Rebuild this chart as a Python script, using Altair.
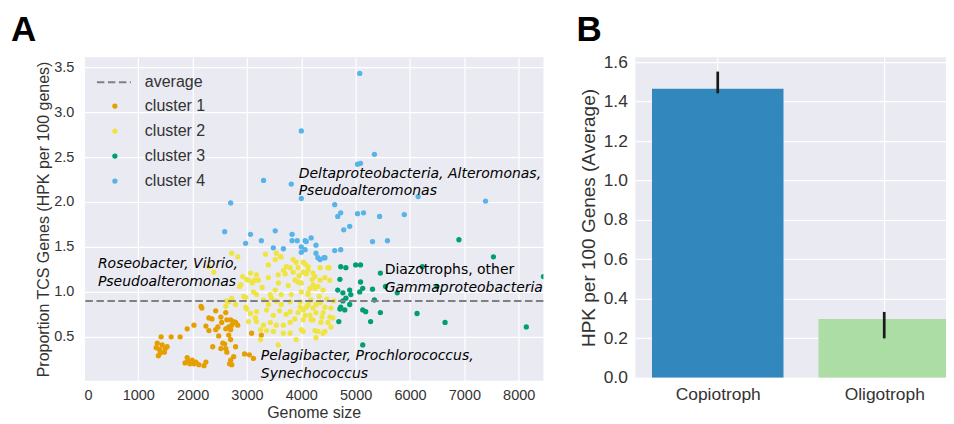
import altair as alt
import pandas as pd

# ---------------- Panel A data (genome size, HPK per 100 genes) ----------------
cluster1 = [
    (1330, 0.38), (1350, 0.43), (1390, 0.36), (1370, 0.29), (1405, 0.32), (1420, 0.50),
    (1440, 0.41), (1480, 0.33), (1530, 0.39), (1605, 0.50), (1495, 0.37), (1770, 0.50),
    (1860, 0.21), (1900, 0.27), (1915, 0.23), (1990, 0.24), (2025, 0.20), (2115, 0.19),
    (2210, 0.18), (2245, 0.22), (1950, 0.20), (1900, 0.59), (2025, 0.63), (2155, 0.84),
    (2170, 0.82), (2245, 0.62), (2300, 0.71), (2300, 0.57), (2355, 0.70), (2370, 0.39),
    (2425, 0.79), (2425, 0.58), (2465, 0.61), (2480, 0.51), (2520, 0.72), (2520, 0.37),
    (2535, 0.66), (2555, 0.43), (2610, 0.77), (2610, 0.59), (2630, 0.69), (2610, 0.37),
    (2665, 0.61), (2665, 0.52), (2700, 0.69), (2700, 0.58), (2700, 0.47), (2720, 0.63),
    (2755, 0.67), (2755, 0.28), (2700, 0.24), (2720, 0.19), (2790, 0.66), (2790, 0.39),
    (2830, 0.63), (2630, 0.33), (2955, 0.31), (3045, 0.30), (3120, 0.26), (3085, 0.54),
    (3265, 0.52), (2590, 0.42), (2680, 0.20), (2060, 0.22),
]
cluster2 = [
    (2720, 1.43), (2830, 1.39), (2300, 1.28), (2390, 1.22), (2920, 1.17), (3030, 1.13),
    (3140, 1.13), (2885, 1.08), (3120, 1.00), (2975, 0.94), (2720, 0.93), (2665, 0.89),
    (2610, 0.84), (2995, 0.81), (3065, 0.76), (3155, 0.71), (3030, 0.67), (3340, 1.42),
    (3520, 1.36), (3615, 1.39), (3395, 1.30), (3850, 1.36), (3905, 1.33), (3725, 1.28),
    (3670, 1.24), (3795, 1.27), (3940, 1.27), (4070, 1.31), (4125, 1.28), (4345, 1.27),
    (4510, 1.27), (3575, 1.19), (3705, 1.20), (3850, 1.22), (4035, 1.22), (4090, 1.20),
    (4250, 1.17), (4345, 1.13), (4435, 1.16), (4525, 1.13), (3175, 1.19), (3065, 1.21),
    (3210, 1.13), (3395, 1.16), (2995, 1.14), (3100, 1.10), (2865, 1.06), (3885, 1.13),
    (3940, 1.11), (4215, 1.08), (4305, 1.06), (4160, 1.04), (4400, 1.02), (3175, 0.97),
    (3520, 1.02), (3630, 0.97), (3815, 0.97), (4000, 1.00), (4125, 0.97), (3430, 0.97),
    (2940, 0.95), (2630, 0.90), (2790, 0.86), (2975, 0.83), (3305, 0.91), (3395, 0.86),
    (3540, 0.90), (3630, 0.86), (3795, 0.89), (3980, 0.83), (4125, 0.86), (4215, 0.82),
    (4345, 0.88), (4435, 0.83), (4545, 0.82), (3175, 0.78), (3360, 0.80), (3485, 0.74),
    (3795, 0.78), (3940, 0.77), (4035, 0.80), (4160, 0.74), (4270, 0.77), (4400, 0.77),
    (4525, 0.72), (3175, 0.67), (3305, 0.63), (3430, 0.66), (3540, 0.63), (3670, 0.63),
    (3795, 0.66), (4035, 0.69), (4215, 0.69), (4360, 0.66), (4545, 0.61), (3485, 0.56),
    (3670, 0.54), (3795, 0.54), (4035, 0.56), (4250, 0.57), (4400, 0.54), (3360, 0.57),
    (3250, 0.58), (4035, 1.33), (4125, 1.24), (4215, 1.21), (4490, 1.27), (4000, 1.10),
    (4250, 1.04), (4125, 0.99), (3980, 0.89), (4090, 0.83), (4270, 0.86), (4070, 0.74),
    (4180, 0.69), (4580, 0.71), (4000, 0.58), (4305, 0.56), (4435, 0.56), (3540, 1.43),
    (3630, 1.39), (3250, 0.47), (3575, 0.41), (3905, 0.47), (4270, 0.49),
    (4180, 0.91), (4330, 0.95), (4470, 0.92), (4600, 0.90), (4380, 0.72), (4490, 0.66),
    (3880, 0.70), (3720, 0.75), (3600, 0.79), (3450, 0.93), (3280, 1.05), (3580, 1.10),
    (3760, 1.07), (3960, 1.18), (4200, 1.14),
]
cluster3 = [
    (4725, 1.28), (4820, 1.27), (5000, 1.30), (5090, 1.30), (4710, 1.14), (5090, 1.11),
    (5310, 1.03), (5455, 1.21), (5550, 1.06), (4670, 1.02), (4765, 0.99), (4890, 1.02),
    (4910, 0.97), (5130, 1.04), (5075, 1.00), (5345, 0.91), (5765, 0.99), (4725, 0.83),
    (4800, 0.80), (4710, 0.81), (5130, 0.80), (5185, 0.78), (5455, 0.77), (5275, 0.67),
    (4690, 0.67), (5130, 0.41), (6130, 0.76), (6645, 0.66), (6900, 1.58), (7535, 1.39),
    (8140, 0.61), (8455, 1.17), (6225, 1.28), (6495, 1.06), (4890, 0.86), (4765, 0.90),
    (4820, 0.93),
]
cluster4 = [
    (5075, 3.43), (4000, 2.79), (5345, 2.53), (5035, 2.42), (5090, 2.43), (3305, 2.24),
    (3815, 2.20), (4000, 2.04), (2700, 1.99), (4615, 1.97), (6150, 2.06), (7390, 2.01),
    (4670, 1.84), (4725, 1.88), (5035, 1.87), (5145, 1.88), (5440, 1.84), (5895, 1.86),
    (4780, 1.69), (4890, 1.73), (5310, 1.56), (5585, 1.57), (3065, 1.64), (3520, 1.68),
    (3265, 1.57), (3830, 1.64), (3830, 1.57), (3925, 1.57), (4070, 1.57), (4180, 1.60),
    (4270, 1.52), (4000, 1.50), (3485, 1.49), (3670, 1.48), (4000, 1.44), (4270, 1.43),
    (4305, 1.38), (4415, 1.38), (4615, 1.46), (4725, 1.47), (4090, 1.56), (4345, 1.36),
    (4435, 1.38), (4070, 1.47), (2590, 1.67), (2975, 1.54),
]
cluster_names = ["cluster 1", "cluster 2", "cluster 3", "cluster 4"]
cluster_colors = ["#E69F00", "#F0E442", "#009E73", "#56B4E9"]
average_hpk = 0.9

x_ticks = [0, 1000, 2000, 3000, 4000, 5000, 6000, 7000, 8000]
y_ticks = [0.5, 1.0, 1.5, 2.0, 2.5, 3.0, 3.5]

annotations = [
    (3952, 2.31, "Deltaproteobacteria, Alteromonas,", "italic"),
    (3952, 2.12, "Pseudoalteromonas", "italic"),
    (257, 1.31, "Roseobacter, Vibrio,", "italic"),
    (257, 1.11, "Pseudoalteromonas", "italic"),
    (5533, 1.24, "Diazotrophs, other", "normal"),
    (5533, 1.04, "Gammaproteobacteria", "italic"),
    (3254, 0.29, "Pelagibacter, Prochlorococcus,", "italic"),
    (3254, 0.09, "Synechococcus", "italic"),
]

# ---------------- Panel B data ----------------
groups = ["Copiotroph", "Oligotroph"]
group_pos = [0, 1]
hpk_avg = [1.465, 0.298]
err_lo = [1.442, 0.200]
err_hi = [1.552, 0.334]
bar_colors = ["#3288BD", "#ABDDA4"]

# ---------------- build tables ----------------
rows = []
for name, pts in zip(cluster_names, [cluster1, cluster2, cluster3, cluster4]):
    for g, h in pts:
        rows.append({"genome": g, "hpk": h, "cluster": name})
scatter_df = pd.DataFrame(rows)
ann_df = pd.DataFrame(annotations, columns=["genome", "hpk", "text", "style"])
avg_df = pd.DataFrame({"hpk": [average_hpk]})
bar_df = pd.DataFrame({"group": groups, "pos": group_pos, "value": hpk_avg,
                       "lo": err_lo, "hi": err_hi, "col": bar_colors})

SANS = "Liberation Sans"
TXT = "#333333"
WA, HA = 460, 324
WB, HB = 311, 321

xscale = alt.Scale(domain=[0, 8455], nice=False, zero=False)
yscale = alt.Scale(domain=[0.011, 3.611], nice=False, zero=False)

axis_common = dict(domain=False, ticks=False, grid=True, gridColor="white", gridWidth=1.2,
                   labelFont=SANS, titleFont=SANS, labelColor=TXT, titleColor=TXT,
                   titleFontWeight="normal")

points = alt.Chart(scatter_df).mark_circle(size=28, opacity=1, clip=True).encode(
    x=alt.X("genome:Q", scale=xscale,
            axis=alt.Axis(values=x_ticks, format="d", title="Genome size",
                          labelFontSize=14.5, titleFontSize=16, labelPadding=8,
                          titlePadding=2, **axis_common)),
    y=alt.Y("hpk:Q", scale=yscale,
            axis=alt.Axis(values=y_ticks, format=".1f",
                          title="Proportion TCS Genes (HPK per 100 genes)",
                          labelFontSize=14.5, titleFontSize=16, labelPadding=10,
                          titlePadding=2, **axis_common)),
    color=alt.Color("cluster:N", scale=alt.Scale(domain=cluster_names, range=cluster_colors),
                    legend=None),
)

avg_rule = alt.Chart(avg_df).mark_rule(color="#808080", strokeWidth=2,
                                       strokeDash=[7.5, 3.5]).encode(
    y=alt.Y("hpk:Q")
)

ann_layers = []
for style in ["italic", "normal"]:
    sub = ann_df[ann_df["style"] == style]
    ann_layers.append(
        alt.Chart(sub).mark_text(align="left", baseline="middle", fontSize=14,
                                 font="DejaVu Sans", fontStyle=style, color="black").encode(
            x=alt.X("genome:Q"),
            y=alt.Y("hpk:Q"),
            text="text:N",
        )
    )

# legend (drawn inside the plot, top-left)
legend_layers = [
    alt.Chart(avg_df).mark_rule(color="#808080", strokeWidth=2, strokeDash=[7.5, 3.5]).encode(
        x=alt.value(13), x2=alt.value(47), y=alt.value(25)),
    alt.Chart(avg_df).mark_text(align="left", baseline="middle", fontSize=16, font=SANS,
                                color=TXT, text="average").encode(
        x=alt.value(61), y=alt.value(25)),
]
for i, (name, col) in enumerate(zip(cluster_names, cluster_colors)):
    yy = 49 + 25 * i
    legend_layers.append(
        alt.Chart(avg_df).mark_circle(size=28, opacity=1, color=col).encode(
            x=alt.value(31), y=alt.value(yy)))
    legend_layers.append(
        alt.Chart(avg_df).mark_text(align="left", baseline="middle", fontSize=16, font=SANS,
                                    color=TXT, text=name).encode(
            x=alt.value(61), y=alt.value(yy)))

label_a = alt.Chart(avg_df).mark_text(align="left", baseline="alphabetic", fontSize=35,
                                      fontWeight="bold", font=SANS, color="black",
                                      text="A").encode(x=alt.value(-73), y=alt.value(-16))

panel_a = alt.layer(points, avg_rule, *ann_layers, *legend_layers, label_a).properties(
    width=WA, height=HA)

# ---------------- Panel B ----------------
label_expr = " : ".join(
    [f"datum.value == {p} ? '{g}'" for p, g in zip(group_pos[:-1], groups[:-1])]
    + [f"'{groups[-1]}'"]
)
bx = alt.Scale(domain=[-0.495, 1.371], nice=False, zero=False)
bars = alt.Chart(bar_df).transform_calculate(
    x0="datum.pos - 0.395", x1="datum.pos + 0.395", base="0"
).mark_bar(clip=True).encode(
    x=alt.X("x0:Q", scale=bx,
            axis=alt.Axis(values=group_pos, labelExpr=label_expr, title=None,
                          labelFontSize=17.4, labelPadding=8, **axis_common)),
    x2="x1:Q",
    y=alt.Y("value:Q", scale=alt.Scale(domain=[0, 1.625], nice=False),
            axis=alt.Axis(values=[0, 0.2, 0.4, 0.6, 0.8, 1.0, 1.2, 1.4, 1.6], format=".1f",
                          title="HPK per 100 Genes (Average)", labelFontSize=17.4,
                          titleFontSize=19, labelPadding=8, titlePadding=5,
                          **axis_common)),
    y2="base:Q",
    fill=alt.Fill("col:N", scale=None),
)
errs = alt.Chart(bar_df).mark_rule(color="#1a1a1a", strokeWidth=2.7).encode(
    x=alt.X("pos:Q"),
    y=alt.Y("lo:Q"),
    y2="hi:Q",
)
label_b = alt.Chart(avg_df).mark_text(align="left", baseline="alphabetic", fontSize=35,
                                      fontWeight="bold", font=SANS, color="black",
                                      text="B").encode(x=alt.value(-59), y=alt.value(-16))

panel_b = alt.layer(bars, errs, label_b).properties(width=WB, height=HB)

chart = alt.hconcat(panel_a, panel_b, spacing=92, bounds="flush").properties(
    padding={"left": 3, "top": 5, "right": 0, "bottom": 0}
).resolve_scale(color="independent").configure_view(fill="#EAEAF2", stroke=None)

chart.save("out.html", embed_options={"renderer": "svg", "actions": False})
